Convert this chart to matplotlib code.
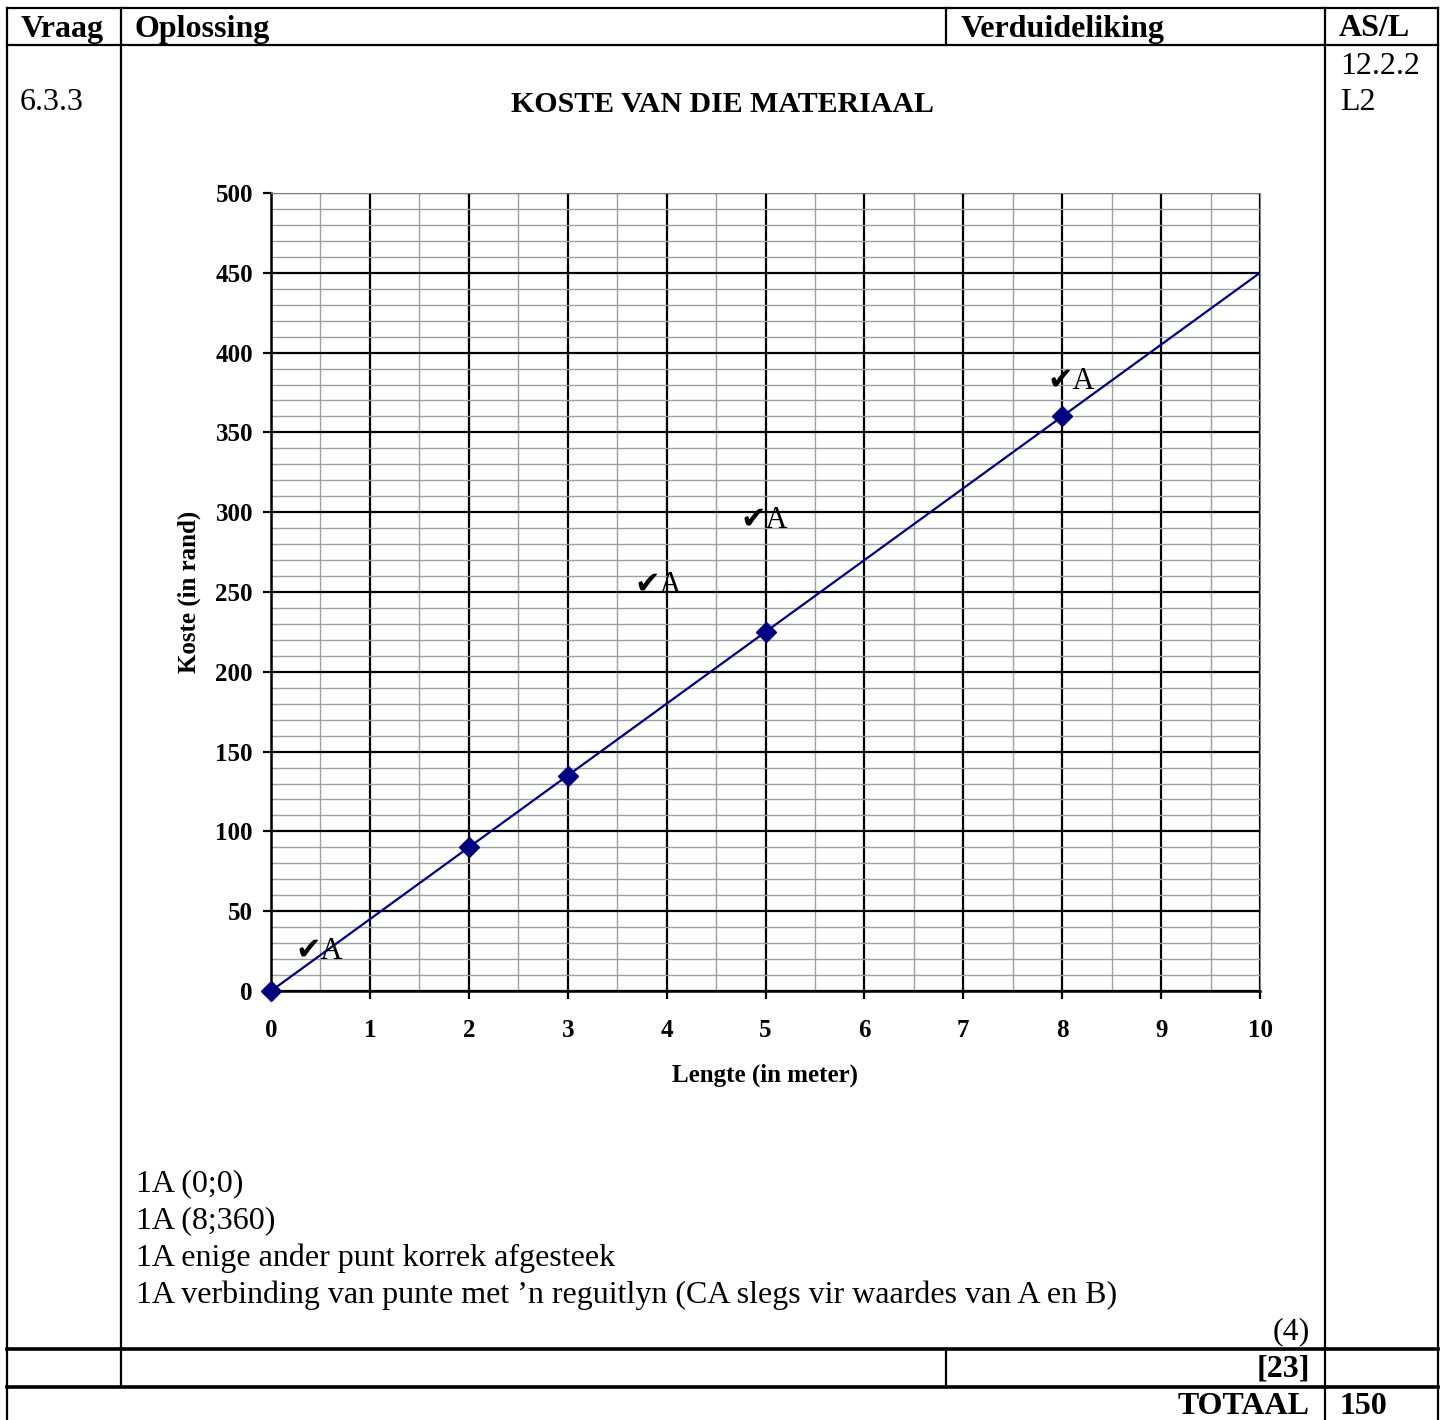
import numpy as np
import matplotlib.pyplot as plt
from matplotlib.ticker import MultipleLocator

# data
lengths = [0, 2, 3, 5, 8]            # meter
costs = [0, 90, 135, 225, 360]       # rand
line_x = [0, 10]                     # straight line drawn through the points
line_y = [0, 450]

# "✓A" marks (x, y in data units)
marks = [(0.25, 25), (3.68, 254), (4.75, 295), (7.85, 382)]

notes = ['1A (0;0)', '1A (8;360)', '1A enige ander punt korrek afgesteek',
         "1A verbinding van punte met \u2019n reguitlyn (CA slegs vir waardes van A en B)"]

W, H = 1445, 1420
serif = ['Liberation Serif', 'DejaVu Serif']
plt.rcParams['font.family'] = serif

fig = plt.figure(figsize=(W / 100, H / 100), dpi=100)

# table frame in pixel coordinates
bg = fig.add_axes([0, 0, 1, 1])
bg.set_xlim(0, W)
bg.set_ylim(H, 0)
bg.axis('off')

def hline(y, x0, x1, lw=1.6):
    bg.plot([x0, x1], [y, y], color='black', lw=lw, solid_capstyle='projecting')

def vline(x, y0, y1, lw=1.6):
    bg.plot([x, x], [y0, y1], color='black', lw=lw, solid_capstyle='projecting')

hline(8, 7, 1438)
hline(45, 7, 1438)
hline(1349, 7, 1438, lw=2.6)
hline(1387, 7, 1438, lw=2.6)
vline(7, 8, 1420)
vline(1438, 8, 1420)
vline(121, 8, 1387)
vline(946, 8, 45)
vline(946, 1349, 1387)
vline(1325, 8, 1420)

fs = 23
for x, s in [(21, 'Vraag'), (135, 'Oplossing'), (961, 'Verduideliking'), (1339, 'AS/L')]:
    bg.text(x, 29, s, fontsize=fs, fontweight='bold', ha='left', va='center')
bg.text(20, 103, '6.3.3', fontsize=fs, ha='left', va='center')
bg.text(1340, 67, '12.2.2', fontsize=fs, ha='left', va='center')
bg.text(1340, 103, 'L2', fontsize=fs, ha='left', va='center')
for i, s in enumerate(notes):
    bg.text(136, 1184 + 37 * i, s, fontsize=fs, ha='left', va='center')
bg.text(1310, 1332, '(4)', fontsize=fs, ha='right', va='center')
bg.text(1310, 1369, '[23]', fontsize=fs, fontweight='bold', ha='right', va='center')
bg.text(1310, 1406, 'TOTAAL', fontsize=fs, fontweight='bold', ha='right', va='center')
bg.text(1340, 1406, '150', fontsize=fs, fontweight='bold', ha='left', va='center')

bg.text(722, 104, 'KOSTE VAN DIE MATERIAAL', fontsize=21.5, fontweight='bold',
        ha='center', va='center')

# the chart
ax = fig.add_axes([271 / W, 1 - 991 / H, (1260 - 271) / W, (991 - 193) / H])
ax.set_xlim(0, 10)
ax.set_ylim(0, 500)
ax.xaxis.set_major_locator(MultipleLocator(1))
ax.xaxis.set_minor_locator(MultipleLocator(0.5))
ax.yaxis.set_major_locator(MultipleLocator(50))
ax.yaxis.set_minor_locator(MultipleLocator(10))
ax.grid(which='minor', color='#a0a0a0', lw=1.0)
ax.grid(which='major', color='black', lw=1.6)
ax.set_axisbelow(True)
ax.spines['top'].set_color('#808080')
ax.spines['right'].set_color('#808080')
ax.spines['left'].set_linewidth(1.8)
ax.spines['bottom'].set_linewidth(1.8)
ax.tick_params(which='major', direction='out', length=6, width=1.6, labelsize=18)
ax.tick_params(axis='x', which='major', pad=14)
ax.tick_params(axis='y', which='major', pad=7)
ax.tick_params(which='minor', length=0)
for lbl in ax.get_xticklabels() + ax.get_yticklabels():
    lbl.set_fontweight('bold')

ax.plot(line_x, line_y, color='#000080', lw=1.6, zorder=3)
ax.plot(lengths, costs, ls='none', marker='D', ms=10, color='#000080', zorder=4,
        clip_on=False)

for x, y in marks:
    ax.text(x, y, '\u2714A', fontsize=22, ha='left', va='center', zorder=5,
            family=['Liberation Serif', 'DejaVu Sans'])

ax.set_xlabel('Lengte (in meter)', fontsize=18, fontweight='bold', labelpad=16)
ax.set_ylabel('Koste (in rand)', fontsize=18, fontweight='bold', labelpad=10)

fig.savefig('out.png', dpi=100)
